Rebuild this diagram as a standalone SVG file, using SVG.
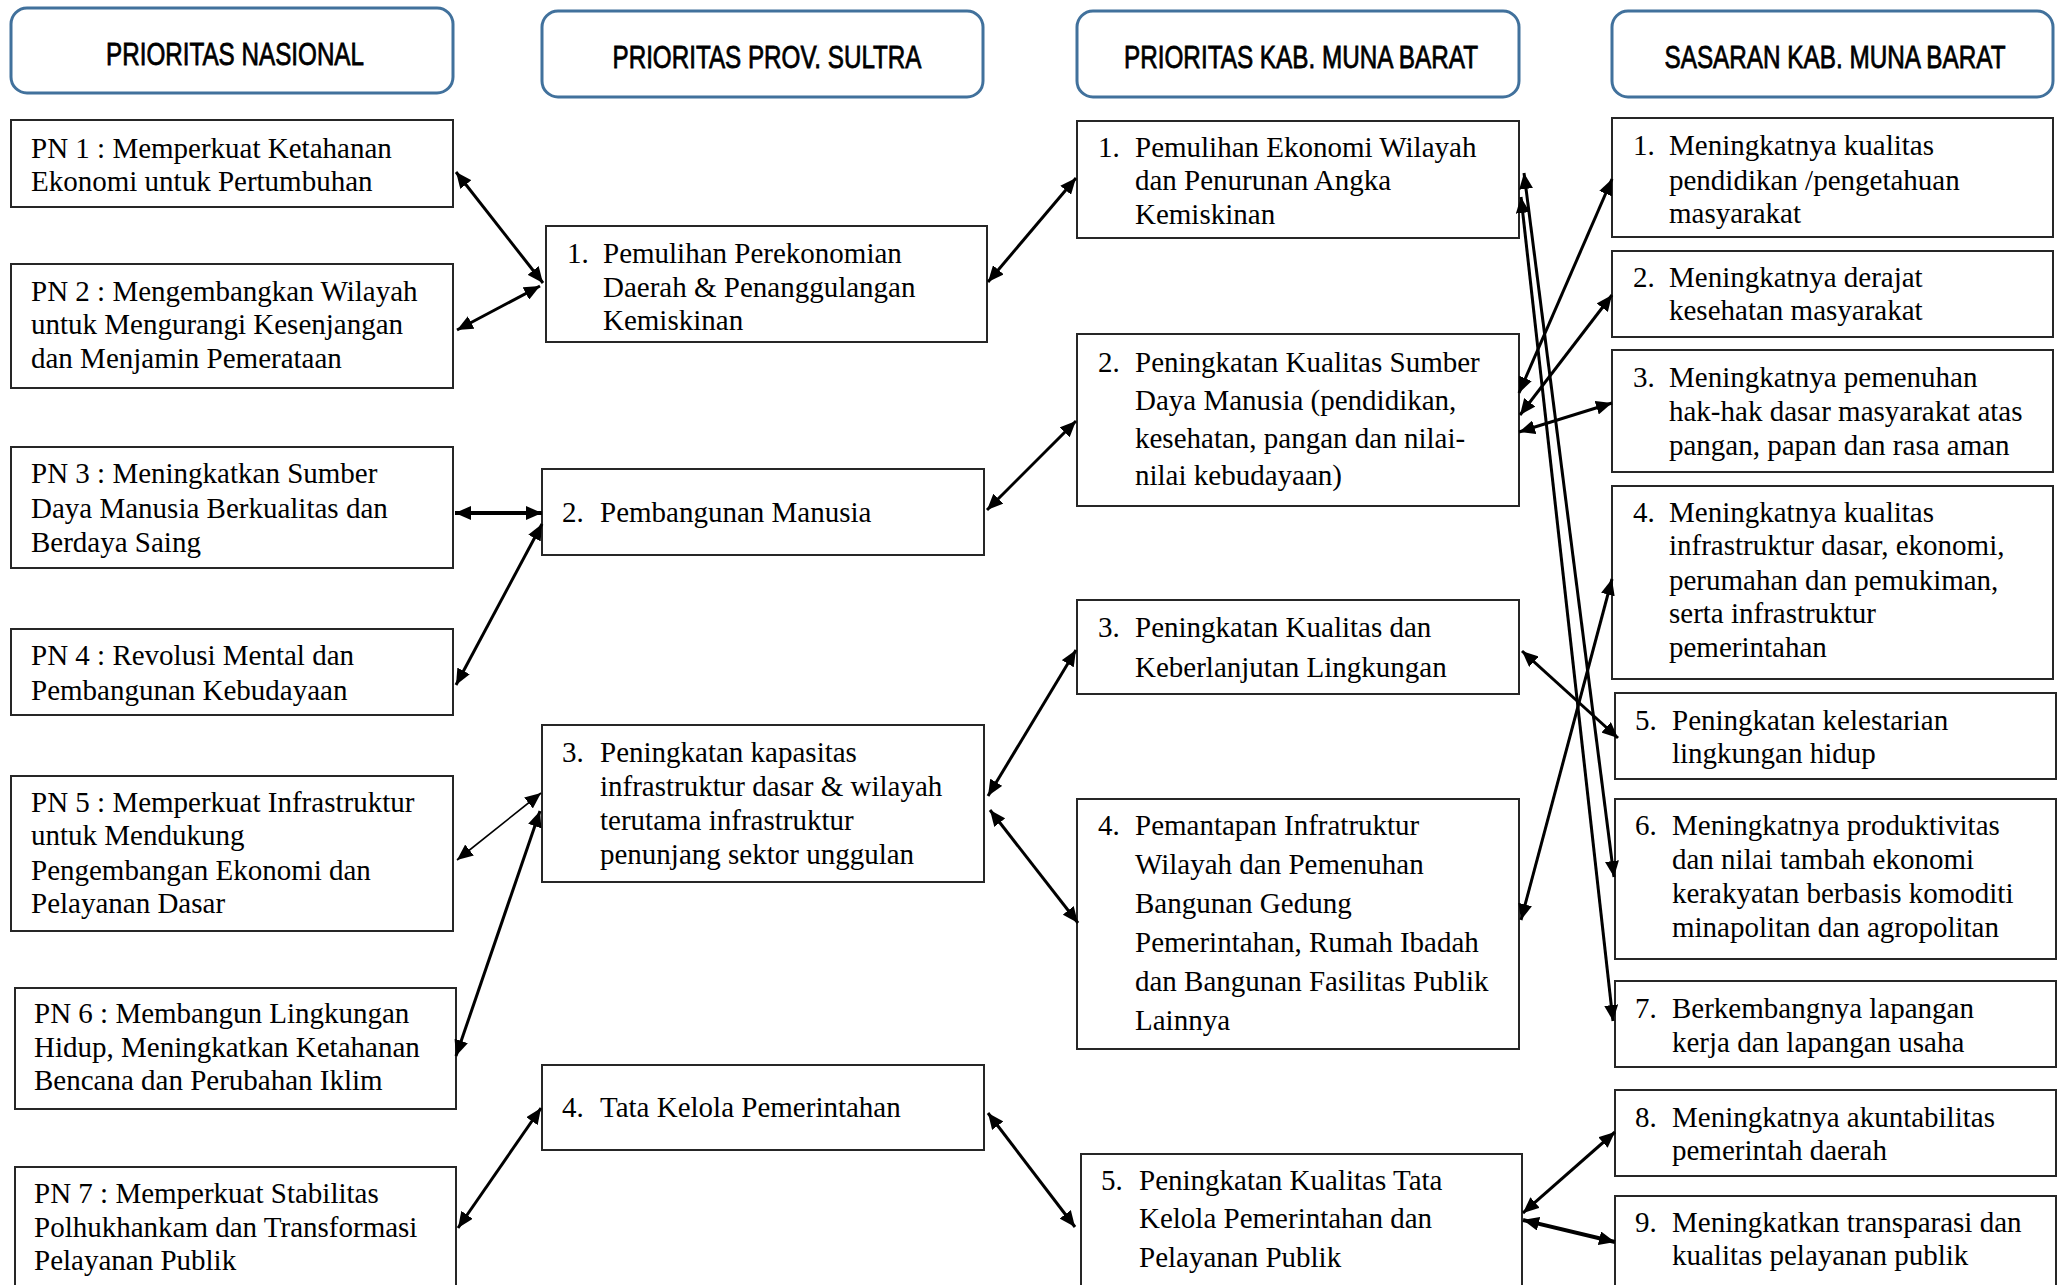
<svg xmlns="http://www.w3.org/2000/svg" width="2063" height="1285" viewBox="0 0 2063 1285">
<style>
.hdr rect{fill:#fff;stroke:#41719c;stroke-width:3}
.hdr text{font-family:"Liberation Sans",Arial,sans-serif;font-size:32px;fill:#000;stroke:#000;stroke-width:0.8;text-anchor:middle}
.box rect{fill:#fff;stroke:#262626;stroke-width:2}
.box text{font-family:"Liberation Serif","Times New Roman",serif;font-size:29px;fill:#000}
.conn line{stroke:#000;stroke-width:3;marker-start:url(#ah);marker-end:url(#ah)}
.conn line.thin{stroke-width:1.6}
.conn line.thick{stroke-width:4}
</style>
<defs>
<marker id="ah" markerUnits="userSpaceOnUse" markerWidth="16" markerHeight="14" viewBox="0 0 16 14" refX="16" refY="7" orient="auto-start-reverse">
<path d="M0,0 L16,7 L0,14 z" fill="#000"/>
</marker>
</defs>
<rect width="2063" height="1285" fill="#fff"/>

<g id="h1" class="hdr"><rect x="11" y="8" width="442" height="85" rx="16"/><text x="235" y="65" textLength="258" lengthAdjust="spacingAndGlyphs">PRIORITAS NASIONAL</text></g>
<g id="h2" class="hdr"><rect x="542" y="11" width="441" height="86" rx="16"/><text x="767" y="68" textLength="309" lengthAdjust="spacingAndGlyphs">PRIORITAS PROV. SULTRA</text></g>
<g id="h3" class="hdr"><rect x="1077" y="11" width="442" height="86" rx="16"/><text x="1301" y="68" textLength="354" lengthAdjust="spacingAndGlyphs">PRIORITAS KAB. MUNA BARAT</text></g>
<g id="h4" class="hdr"><rect x="1612" y="11" width="441" height="86" rx="16"/><text x="1835" y="68" textLength="341" lengthAdjust="spacingAndGlyphs">SASARAN KAB. MUNA BARAT</text></g>

<g id="pn1" class="box"><rect x="11" y="120" width="442" height="87"/><text><tspan x="31" y="158">PN 1 : Memperkuat Ketahanan</tspan><tspan x="31" y="191">Ekonomi untuk Pertumbuhan</tspan></text></g>
<g id="pn2" class="box"><rect x="11" y="264" width="442" height="124"/><text><tspan x="31" y="301">PN 2 : Mengembangkan Wilayah</tspan><tspan x="31" y="334">untuk Mengurangi Kesenjangan</tspan><tspan x="31" y="368">dan Menjamin Pemerataan</tspan></text></g>
<g id="pn3" class="box"><rect x="11" y="447" width="442" height="121"/><text><tspan x="31" y="483">PN 3 : Meningkatkan Sumber</tspan><tspan x="31" y="518">Daya Manusia Berkualitas dan</tspan><tspan x="31" y="552">Berdaya Saing</tspan></text></g>
<g id="pn4" class="box"><rect x="11" y="629" width="442" height="86"/><text><tspan x="31" y="665">PN 4 : Revolusi Mental dan</tspan><tspan x="31" y="700">Pembangunan Kebudayaan</tspan></text></g>
<g id="pn5" class="box"><rect x="11" y="776" width="442" height="155"/><text><tspan x="31" y="812">PN 5 : Memperkuat Infrastruktur</tspan><tspan x="31" y="845">untuk Mendukung</tspan><tspan x="31" y="880">Pengembangan Ekonomi dan</tspan><tspan x="31" y="913">Pelayanan Dasar</tspan></text></g>
<g id="pn6" class="box"><rect x="15" y="988" width="441" height="121"/><text><tspan x="34" y="1023">PN 6 : Membangun Lingkungan</tspan><tspan x="34" y="1057">Hidup, Meningkatkan Ketahanan</tspan><tspan x="34" y="1090">Bencana dan Perubahan Iklim</tspan></text></g>
<g id="pn7" class="box"><rect x="15" y="1167" width="441" height="130"/><text><tspan x="34" y="1203">PN 7 : Memperkuat Stabilitas</tspan><tspan x="34" y="1237">Polhukhankam dan Transformasi</tspan><tspan x="34" y="1270">Pelayanan Publik</tspan></text></g>

<g id="prov1" class="box"><rect x="546" y="226" width="441" height="116"/><text><tspan x="567" y="263">1.</tspan><tspan x="603" y="263">Pemulihan Perekonomian</tspan><tspan x="603" y="297">Daerah &amp; Penanggulangan</tspan><tspan x="603" y="330">Kemiskinan</tspan></text></g>
<g id="prov2" class="box"><rect x="542" y="469" width="442" height="86"/><text><tspan x="562" y="522">2.</tspan><tspan x="600" y="522">Pembangunan Manusia</tspan></text></g>
<g id="prov3" class="box"><rect x="542" y="725" width="442" height="157"/><text><tspan x="562" y="762">3.</tspan><tspan x="600" y="762">Peningkatan kapasitas</tspan><tspan x="600" y="796">infrastruktur dasar &amp; wilayah</tspan><tspan x="600" y="830">terutama infrastruktur</tspan><tspan x="600" y="864">penunjang sektor unggulan</tspan></text></g>
<g id="prov4" class="box"><rect x="542" y="1065" width="442" height="85"/><text><tspan x="562" y="1117">4.</tspan><tspan x="600" y="1117">Tata Kelola Pemerintahan</tspan></text></g>

<g id="kab1" class="box"><rect x="1077" y="121" width="442" height="117"/><text><tspan x="1098" y="157">1.</tspan><tspan x="1135" y="157">Pemulihan Ekonomi Wilayah</tspan><tspan x="1135" y="190">dan Penurunan Angka</tspan><tspan x="1135" y="224">Kemiskinan</tspan></text></g>
<g id="kab2" class="box"><rect x="1077" y="334" width="442" height="172"/><text><tspan x="1098" y="372">2.</tspan><tspan x="1135" y="372">Peningkatan Kualitas Sumber</tspan><tspan x="1135" y="410">Daya Manusia (pendidikan,</tspan><tspan x="1135" y="448">kesehatan, pangan dan nilai-</tspan><tspan x="1135" y="485">nilai kebudayaan)</tspan></text></g>
<g id="kab3" class="box"><rect x="1077" y="600" width="442" height="94"/><text><tspan x="1098" y="637">3.</tspan><tspan x="1135" y="637">Peningkatan Kualitas dan</tspan><tspan x="1135" y="677">Keberlanjutan Lingkungan</tspan></text></g>
<g id="kab4" class="box"><rect x="1077" y="799" width="442" height="250"/><text><tspan x="1098" y="835">4.</tspan><tspan x="1135" y="835">Pemantapan Infratruktur</tspan><tspan x="1135" y="874">Wilayah dan Pemenuhan</tspan><tspan x="1135" y="913">Bangunan Gedung</tspan><tspan x="1135" y="952">Pemerintahan, Rumah Ibadah</tspan><tspan x="1135" y="991">dan Bangunan Fasilitas Publik</tspan><tspan x="1135" y="1030">Lainnya</tspan></text></g>
<g id="kab5" class="box"><rect x="1081" y="1154" width="441" height="143"/><text><tspan x="1101" y="1190">5.</tspan><tspan x="1139" y="1190">Peningkatan Kualitas Tata</tspan><tspan x="1139" y="1228">Kelola Pemerintahan dan</tspan><tspan x="1139" y="1267">Pelayanan Publik</tspan></text></g>

<g id="sas1" class="box"><rect x="1612" y="118" width="441" height="119"/><text><tspan x="1633" y="155">1.</tspan><tspan x="1669" y="155">Meningkatnya kualitas</tspan><tspan x="1669" y="190">pendidikan /pengetahuan</tspan><tspan x="1669" y="223">masyarakat</tspan></text></g>
<g id="sas2" class="box"><rect x="1612" y="251" width="441" height="86"/><text><tspan x="1633" y="287">2.</tspan><tspan x="1669" y="287">Meningkatnya derajat</tspan><tspan x="1669" y="320">kesehatan masyarakat</tspan></text></g>
<g id="sas3" class="box"><rect x="1612" y="350" width="441" height="122"/><text><tspan x="1633" y="387">3.</tspan><tspan x="1669" y="387">Meningkatnya pemenuhan</tspan><tspan x="1669" y="421">hak-hak dasar masyarakat atas</tspan><tspan x="1669" y="455">pangan, papan dan rasa aman</tspan></text></g>
<g id="sas4" class="box"><rect x="1612" y="486" width="441" height="193"/><text><tspan x="1633" y="522">4.</tspan><tspan x="1669" y="522">Meningkatnya kualitas</tspan><tspan x="1669" y="555">infrastruktur dasar, ekonomi,</tspan><tspan x="1669" y="590">perumahan dan pemukiman,</tspan><tspan x="1669" y="623">serta infrastruktur</tspan><tspan x="1669" y="657">pemerintahan</tspan></text></g>
<g id="sas5" class="box"><rect x="1615" y="693" width="441" height="86"/><text><tspan x="1635" y="730">5.</tspan><tspan x="1672" y="730">Peningkatan kelestarian</tspan><tspan x="1672" y="763">lingkungan hidup</tspan></text></g>
<g id="sas6" class="box"><rect x="1615" y="799" width="441" height="160"/><text><tspan x="1635" y="835">6.</tspan><tspan x="1672" y="835">Meningkatnya produktivitas</tspan><tspan x="1672" y="869">dan nilai tambah ekonomi</tspan><tspan x="1672" y="903">kerakyatan berbasis komoditi</tspan><tspan x="1672" y="937">minapolitan dan agropolitan</tspan></text></g>
<g id="sas7" class="box"><rect x="1615" y="981" width="441" height="86"/><text><tspan x="1635" y="1018">7.</tspan><tspan x="1672" y="1018">Berkembangnya lapangan</tspan><tspan x="1672" y="1052">kerja dan lapangan usaha</tspan></text></g>
<g id="sas8" class="box"><rect x="1615" y="1090" width="441" height="86"/><text><tspan x="1635" y="1127">8.</tspan><tspan x="1672" y="1127">Meningkatnya akuntabilitas</tspan><tspan x="1672" y="1160">pemerintah daerah</tspan></text></g>
<g id="sas9" class="box"><rect x="1615" y="1196" width="441" height="101"/><text><tspan x="1635" y="1232">9.</tspan><tspan x="1672" y="1232">Meningkatkan transparasi dan</tspan><tspan x="1672" y="1265">kualitas pelayanan publik</tspan></text></g>

<g id="connectors" class="conn">
<line x1="456" y1="172" x2="543" y2="283"/>
<line x1="457" y1="330" x2="540" y2="286"/>
<line class="thick" x1="455" y1="513" x2="542" y2="513"/>
<line x1="456" y1="685" x2="542" y2="524"/>
<line class="thin" x1="457" y1="860" x2="541" y2="793"/>
<line x1="456" y1="1056" x2="540" y2="811"/>
<line x1="458" y1="1228" x2="541" y2="1108"/>
<line x1="988" y1="282" x2="1076" y2="178"/>
<line x1="987" y1="510" x2="1076" y2="421"/>
<line x1="988" y1="796" x2="1076" y2="650"/>
<line x1="990" y1="810" x2="1078" y2="923"/>
<line x1="988" y1="1113" x2="1075" y2="1227"/>
<line x1="1524" y1="173" x2="1614" y2="877"/>
<line x1="1521" y1="197" x2="1613" y2="1021"/>
<line x1="1519" y1="393" x2="1612" y2="179"/>
<line x1="1520" y1="415" x2="1612" y2="295"/>
<line x1="1519" y1="432" x2="1612" y2="403"/>
<line x1="1522" y1="651" x2="1618" y2="738"/>
<line x1="1521" y1="920" x2="1612" y2="579"/>
<line x1="1523" y1="1213" x2="1615" y2="1132"/>
<line class="thick" x1="1523" y1="1220" x2="1615" y2="1242"/>
</g>
</svg>
